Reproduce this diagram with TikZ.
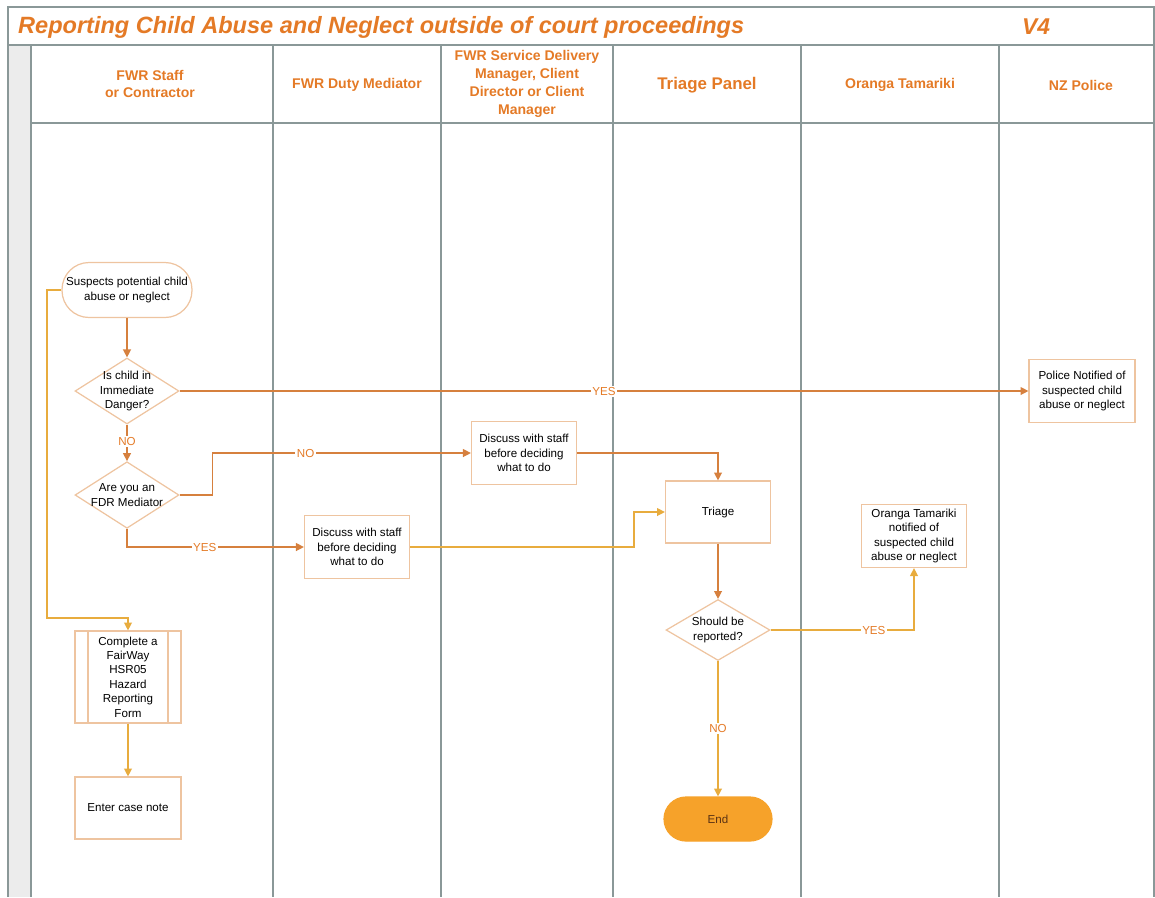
\documentclass[tikz,border=0pt]{standalone}
\usepackage{fontspec}
\setmainfont{Liberation Sans}
\usetikzlibrary{shapes.geometric}
\usetikzlibrary{arrows.meta}
\definecolor{fwrorange}{RGB}{228,122,38}
\definecolor{flowline}{RGB}{214,128,62}
\definecolor{flowlinelt}{RGB}{232,172,62}
\definecolor{boxline}{RGB}{238,196,160}
\definecolor{laneline}{RGB}{138,152,152}
\definecolor{stripgray}{RGB}{236,236,236}
\definecolor{endfill}{RGB}{246,162,42}
\tikzstyle{stepfont} = [font=\fontsize{6.6}{8.2}\selectfont]
\tikzstyle{process} = [rectangle, draw=boxline, fill=white, line width=0.7pt,
align=center, minimum width=2.1cm, minimum height=1.26cm, inner sep=1pt, stepfont]
\tikzstyle{decision} = [diamond, draw=boxline, fill=white, line width=0.7pt,
align=center, minimum width=2.08cm, minimum height=1.26cm, inner sep=-4pt, stepfont]
\tikzstyle{terminal} = [process, minimum width=2.6cm, minimum height=1.1cm,
rounded corners=0.54cm]
\tikzstyle{lanehead} = [align=center, text=fwrorange, font=\fontsize{8}{10.2}\selectfont\bfseries]
\tikzstyle{flow} = [draw=flowline, line width=0.75pt, -{Triangle[length=4.5pt,width=4.5pt]}]
\tikzstyle{flowlt} = [flow, draw=flowlinelt]
\tikzstyle{answer} = [fill=white, text=fwrorange, inner sep=0.8pt, font=\fontsize{6.6}{7}\selectfont]

\begin{document}
\begin{tikzpicture}[x=0.02cm, y=-0.02cm]
  \useasboundingbox (0,0) rectangle (1155,897);

  % frame and swim lanes
  \fill[stripgray] (8,45) rectangle (31,897);
  \draw[laneline, line width=0.8pt] (8,7) rectangle (1154,45);
  \draw[laneline, line width=0.8pt] (8,45) -- (8,897);
  \draw[laneline, line width=0.8pt] (31,123) -- (1154,123);
  \foreach \x in {31,273,441,613,801,999,1154}
    \draw[laneline, line width=0.8pt] (\x,45) -- (\x,897);

  \node[anchor=west, text=fwrorange, font=\fontsize{13.4}{14}\selectfont\bfseries\itshape]
    (title) at (12,27) {Reporting Child Abuse and Neglect outside of court proceedings};
  \node[text=fwrorange, font=\fontsize{13}{14}\selectfont\bfseries\itshape] (version) at (1036,27) {V4};

  \node[lanehead] (hstaff) at (150,84) {FWR Staff\\or Contractor};
  \node[lanehead] (hduty) at (357,85) {FWR Duty Mediator};
  \node[lanehead] (hservice) at (527,84) {FWR Service Delivery\\Manager, Client\\Director or Client\\Manager};
  \node[lanehead, font=\fontsize{9.6}{11}\selectfont\bfseries] (htriage) at (707,85) {Triage Panel};
  \node[lanehead] (hot) at (900,85) {Oranga Tamariki};
  \node[lanehead] (hpolice) at (1081,85) {NZ Police};

  % steps
  \node[terminal] (suspect) at (127,290) {Suspects potential child\\abuse or neglect};
  \node[decision, minimum height=1.32cm] (danger) at (127,391) {Is child in\\Immediate\\Danger?};
  \node[decision, minimum height=1.24cm] (fdr) at (127,495) {Are you an\\FDR Mediator};
  \node[process, minimum width=2.12cm] (police) at (1082,391) {Police Notified of\\suspected child\\abuse or neglect};
  \node[process] (discussa) at (524,453) {Discuss with staff\\before deciding\\what to do};
  \node[process] (discussb) at (357,547) {Discuss with staff\\before deciding\\what to do};
  \node[process, minimum height=1.24cm] (triage) at (718,512) {Triage};
  \node[decision, minimum height=1.22cm] (report) at (718,630) {Should be\\reported?};
  \node[process] (notified) at (914,536) {Oranga Tamariki\\notified of\\suspected child\\abuse or neglect};
  \node[terminal, minimum width=2.16cm, minimum height=0.88cm, rounded corners=0.44cm,
    fill=endfill, draw=endfill, text={rgb,255:red,90;green,50;blue,20}] (end) at (718,819) {End};
  \node[process, minimum width=2.12cm, minimum height=1.84cm] (form) at (128,677)
    {Complete a\\FairWay\\HSR05\\Hazard\\Reporting\\Form};
  \draw[boxline, line width=0.7pt] (88,631) -- (88,723) (168,631) -- (168,723);
  \node[process, minimum width=2.12cm, minimum height=1.24cm] (casenote) at (128,808) {Enter case note};

  % connectors
  \coordinate (formbend) at (47,618);
  \draw[flow] (suspect) -- (danger);
  \draw[flow] (danger.east) -- node[answer, pos=0.5] {YES} (police.west);
  \draw[flow] (danger.south) -- node[answer, pos=0.45] {NO} (fdr.north);
  \draw[flow] (fdr.east) -- ++(33,0) |- node[answer, pos=0.68] {NO} (discussa.west);
  \draw[flow] (fdr.south) |- node[answer, pos=0.72] {YES} (discussb.west);
  \draw[flow] (discussa.east) -| (triage.north);
  \draw[flowlt] (discussb.east) -- ++(224,0) |- (triage.west);
  \draw[flow] (triage) -- (report);
  \draw[flowlt] (report.east) -| node[answer, pos=0.36] {YES} (notified.south);
  \draw[flowlt] (report.south) -- node[answer, pos=0.5] {NO} (end.north);
  \draw[flowlt] (suspect.west) -| (formbend) -| (form.north);
  \draw[flowlt] (form) -- (casenote);
\end{tikzpicture}
\end{document}
